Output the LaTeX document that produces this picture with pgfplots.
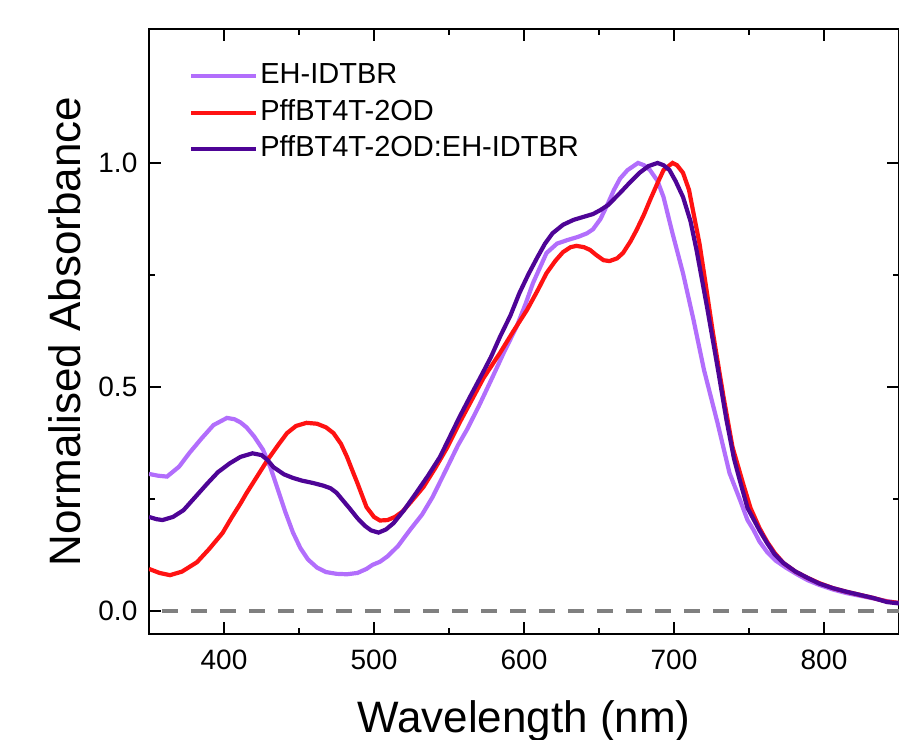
\documentclass[border=0pt]{standalone}
\usepackage{pgfplots}
\pgfplotsset{compat=1.18}
\usepackage{fontspec}
\setmainfont{Liberation Sans}

\definecolor{lightpurp}{RGB}{178,110,252}
\definecolor{redline}{RGB}{255,18,18}
\definecolor{darkpurp}{RGB}{78,4,150}
\definecolor{zeroline}{RGB}{128,128,128}

\begin{document}
\begin{tikzpicture}
  \begin{axis}[
    at={(0,0)}, anchor=south west,
    scale only axis,
    width=375pt, height=302.5pt,
    xmin=350, xmax=850,
    ymin=-0.0513, ymax=1.299,
    xtick={400,500,600,700,800},
    ytick={0,0.5,1},
    minor x tick num=1,
    minor y tick num=1,
    tick align=inside,
    major tick length=6pt,
    minor tick length=3pt,
    axis line style={line width=1pt},
    every tick/.style={black, line width=1pt},
    /pgf/number format/assume math mode=true,
    tick label style={font=\fontsize{14}{16}\selectfont},
    yticklabel style={/pgf/number format/fixed, /pgf/number format/fixed zerofill,
      /pgf/number format/precision=1, xshift=-2.3pt},
    xticklabel style={yshift=-4.3pt},
    xlabel={Wavelength (nm)},
    ylabel={Normalised Absorbance},
    label style={font=\fontsize{22}{26}\selectfont},
    xlabel style={at={(axis description cs:0.5,-0.162)}, anchor=base},
    ylabel style={at={(axis description cs:-0.112,0.5)}, anchor=center, rotate=0},
    legend style={
      at={(axis description cs:0.045,0.955)},
      anchor=north west,
      draw=none, fill=none,
      font=\fontsize{14.5}{16}\selectfont,
      row sep=2.75pt,
      nodes={inner sep=1pt, text height=10.5pt, text depth=3pt},
    },
    legend cell align=left,
    legend image code/.code={\draw[#1] (0pt,0pt) -- (32.5pt,0pt);},
  ]
    % zero line
    \addplot[forget plot, color=zeroline, line width=1.6pt,
      dash pattern=on 7.8pt off 6.7pt, dash phase=7.8pt] coordinates {(350,0) (850,0)};

    % EH-IDTBR
    \addplot[lightpurp, line width=2.1pt] coordinates {
      (350,0.306) (356,0.302) (362,0.300) (370,0.322) (377,0.353) (385,0.385)
      (393,0.415) (402,0.431) (407,0.428) (411,0.421) (415,0.410) (420,0.390)
      (426,0.360) (431,0.320) (436,0.270) (441,0.220) (446,0.175) (451,0.140)
      (456,0.115) (462,0.097) (468,0.087) (475,0.083) (482,0.082) (489,0.085)
      (495,0.094) (499,0.103) (504,0.110) (509,0.122) (516,0.145) (524,0.181)
      (532,0.215) (539,0.254) (548,0.315) (556,0.370) (562,0.405) (570,0.458)
      (579,0.522) (587,0.580) (595,0.634) (601,0.685) (606,0.732) (615,0.799)
      (622,0.820) (629,0.828) (636,0.835) (642,0.843) (646,0.852) (651,0.875)
      (656,0.910) (660,0.940) (664,0.965) (669,0.984) (676,1.000) (680,0.995)
      (684,0.984) (689,0.960) (693,0.924) (699,0.843) (706,0.754) (713,0.650)
      (720,0.538) (729,0.420) (737,0.308) (744,0.248) (749,0.203) (753,0.181)
      (757,0.155) (762,0.132) (768,0.112) (775,0.096) (782,0.082) (789,0.069)
      (797,0.058) (806,0.048) (815,0.040) (824,0.034) (833,0.028) (842,0.022)
      (850,0.018)
    };
    \addlegendentry{EH-IDTBR}

    % PffBT4T-2OD
    \addplot[redline, line width=2.1pt] coordinates {
      (350,0.094) (357,0.085) (364,0.080) (372,0.088) (382,0.109) (390,0.138)
      (399,0.174) (405,0.208) (411,0.240) (415,0.263) (422,0.300) (429,0.337)
      (436,0.370) (442,0.397) (448,0.413) (455,0.420) (462,0.418) (468,0.410)
      (473,0.397) (478,0.373) (482,0.344) (486,0.310) (489,0.285) (495,0.232)
      (500,0.210) (504,0.202) (509,0.203) (514,0.210) (519,0.222) (525,0.245)
      (533,0.277) (541,0.320) (549,0.366) (557,0.420) (565,0.470) (573,0.520)
      (584,0.576) (593,0.625) (602,0.672) (609,0.715) (615,0.754) (621,0.782)
      (626,0.801) (631,0.812) (635,0.815) (640,0.812) (644,0.806) (648,0.795)
      (653,0.783) (657,0.781) (662,0.787) (666,0.799) (671,0.825) (675,0.850)
      (680,0.885) (684,0.917) (689,0.955) (693,0.984) (699,1.000) (702,0.995)
      (706,0.978) (710,0.940) (713,0.888) (717,0.820) (720,0.754) (726,0.620)
      (733,0.478) (739,0.366) (746,0.285) (751,0.230) (757,0.185) (762,0.155)
      (767,0.130) (773,0.107) (781,0.088) (789,0.074) (797,0.062) (806,0.051)
      (815,0.043) (824,0.036) (833,0.029) (842,0.021) (850,0.018)
    };
    \addlegendentry{PffBT4T-2OD}

    % PffBT4T-2OD:EH-IDTBR blend
    \addplot[darkpurp, line width=2.1pt] coordinates {
      (350,0.210) (355,0.205) (359,0.203) (366,0.210) (373,0.225) (381,0.255)
      (389,0.285) (396,0.310) (404,0.330) (411,0.344) (419,0.352) (425,0.348)
      (429,0.337) (433,0.321) (440,0.305) (446,0.297) (452,0.291) (459,0.286)
      (466,0.280) (471,0.274) (475,0.264) (479,0.248) (484,0.228) (489,0.207)
      (494,0.190) (498,0.180) (503,0.175) (508,0.182) (513,0.196) (520,0.225)
      (528,0.263) (536,0.302) (544,0.344) (550,0.385) (557,0.433) (564,0.478)
      (571,0.522) (578,0.567) (584,0.612) (591,0.660) (597,0.710) (603,0.752)
      (609,0.790) (614,0.820) (619,0.843) (626,0.862) (633,0.873) (640,0.880)
      (646,0.886) (651,0.895) (656,0.906) (664,0.933) (671,0.958) (677,0.978)
      (683,0.993) (689,1.000) (693,0.995) (697,0.984) (701,0.960) (706,0.924)
      (711,0.870) (715,0.806) (722,0.679) (729,0.545) (735,0.426) (740,0.340)
      (744,0.290) (749,0.230) (757,0.180) (762,0.152) (767,0.127) (773,0.107)
      (781,0.088) (789,0.074) (797,0.061) (806,0.051) (815,0.043) (824,0.036)
      (833,0.029) (842,0.020) (850,0.017)
    };
    \addlegendentry{PffBT4T-2OD:EH-IDTBR}
  \end{axis}
  \pgfresetboundingbox
  \path (-74.5pt,-52.5pt) rectangle (375pt,317pt);
\end{tikzpicture}
\end{document}
